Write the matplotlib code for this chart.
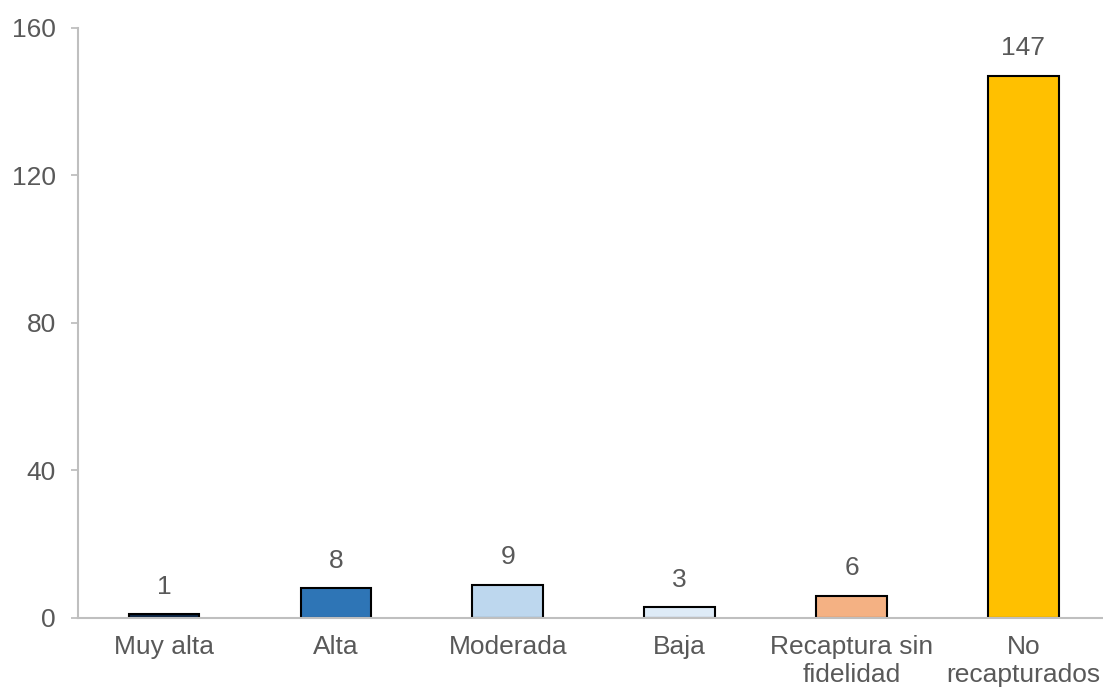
import matplotlib
matplotlib.use("Agg")
import matplotlib.pyplot as plt

categories = ["Muy alta", "Alta", "Moderada", "Baja", "Recaptura sin\nfidelidad", "No\nrecapturados"]
values = [1, 8, 9, 3, 6, 147]
colors = ["#0B2545", "#2E75B6", "#BDD7EE", "#DEEBF7", "#F4B183", "#FFC000"]
yticks = [0, 40, 80, 120, 160]

plt.rcParams["font.family"] = ["Liberation Sans", "DejaVu Sans"]
text_color = "#595959"
axis_color = "#BFBFBF"

fig = plt.figure(figsize=(11.03, 6.95), dpi=100)
ax = fig.add_axes([0.0707, 0.111, 0.935, 0.849])

x = list(range(len(categories)))
ax.bar(x, values, width=0.41, color=colors, edgecolor="black", linewidth=1.5, zorder=2)

for xi, v in zip(x, values):
    ax.annotate(str(v), (xi, v), xytext=(0, 11), textcoords="offset points",
                ha="center", va="bottom", fontsize=19, color=text_color)

ax.set_xlim(-0.5, 5.5)
ax.set_ylim(0, 160)
ax.set_yticks(yticks)
ax.set_xticks(x)
ax.set_xticklabels(categories, fontsize=19, color=text_color, linespacing=1.25)
ax.tick_params(axis="y", labelsize=19, labelcolor=text_color, color=axis_color,
               length=5, width=1.3, pad=11)
ax.tick_params(axis="x", length=0, pad=12)

for side in ["top", "right"]:
    ax.spines[side].set_visible(False)
for side in ["left", "bottom"]:
    ax.spines[side].set_color(axis_color)
    ax.spines[side].set_linewidth(1.5)
ax.spines["bottom"].set_zorder(3)

fig.savefig("out.png", dpi=100)
